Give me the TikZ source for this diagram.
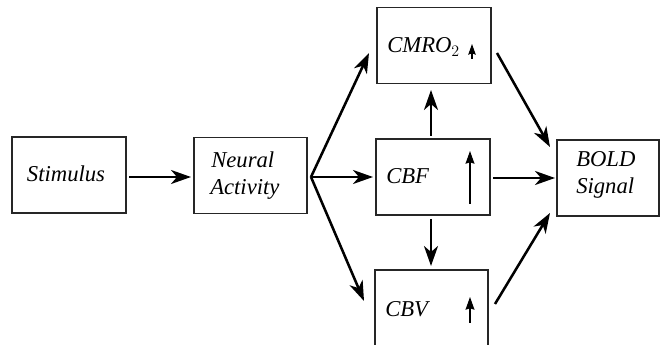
\documentclass[tikz,border=0pt]{standalone}
\usepackage{fontspec}
\setmainfont{Liberation Serif}
\usetikzlibrary{arrows.meta}
\begin{document}
\begin{tikzpicture}[x=0.75pt,y=-0.75pt,
  box/.style={draw=black!85,line width=0.9pt,minimum width=#1*0.75pt,minimum height=57pt,inner sep=0pt},
  box/.default=114,
  lbl/.style={anchor=base west,inner sep=0pt,font=\fontsize{17}{20}\selectfont\itshape},
  flow/.style={line width=1.9pt,-{Stealth[length=15pt,width=10.5pt,inset=4.5pt]}},
  up/.style={line width=0.9pt,-{Stealth[length=#1,width=0.7*#1,inset=1pt]}},
  up/.default=9.5pt]
\useasboundingbox (0,0) rectangle (661,345);
\begin{scope}
\clip (0,0) rectangle (661,345);
\node[box] (stim) at (69,175) {};
\node[box=113] (neur) at (250.5,175.5) {};
\node[box] (cmro) at (434,45.5) {};
\node[box] (cbf) at (433,177) {};
\node[box=113] (cbv) at (431.5,308) {};
\node[box=102] (bold) at (608,178) {};
\end{scope}
% labels
\node[lbl,anchor=base] (tstim) at (66,182) {Stimulus};
\node[lbl] (tneur1) at (211,168) {Neural};
\node[lbl] (tneur2) at (210,195) {Activity};
\node[lbl] (tcmro) at (387,53) {CMRO$_2$};
\node[lbl] (tcbf) at (386,184) {CBF};
\node[lbl] (tcbv) at (385,317) {CBV};
\node[lbl] (tbold1) at (576,167) {BOLD};
\node[lbl] (tbold2) at (576,194) {Signal};
% small arrows
\coordinate (a1s) at (472,59); \coordinate (a1e) at (472,44);
\coordinate (a2s) at (470,204); \coordinate (a2e) at (470,151);
\coordinate (a3s) at (470,323); \coordinate (a3e) at (470,297);
\draw[up=8pt] (a1s) -- (a1e);
\draw[up] (a2s) -- (a2e);
\draw[up] (a3s) -- (a3e);
% flow arrows
\coordinate (fan) at (311,177);
\coordinate (s1) at (129,177); \coordinate (e1) at (191,177);
\draw[flow] (s1) -- (e1);
\coordinate (t1) at (369,53);
\coordinate (t2) at (373,177);
\coordinate (t3) at (364,301);
\draw[flow] (fan) -- (t1);
\draw[flow] (fan) -- (t2);
\draw[flow] (fan) -- (t3);
\coordinate (u1) at (431,136); \coordinate (u2) at (431,90);
\draw[flow] (u1) -- (u2);
\coordinate (d1) at (431,219); \coordinate (d2) at (431,266);
\draw[flow] (d1) -- (d2);
\coordinate (b1s) at (497,53); \coordinate (b1e) at (550,147);
\coordinate (b2s) at (493,178); \coordinate (b2e) at (555,178);
\coordinate (b3s) at (495,304); \coordinate (b3e) at (550,213);
\draw[flow] (b1s) -- (b1e);
\draw[flow] (b2s) -- (b2e);
\draw[flow] (b3s) -- (b3e);
\end{tikzpicture}
\end{document}
